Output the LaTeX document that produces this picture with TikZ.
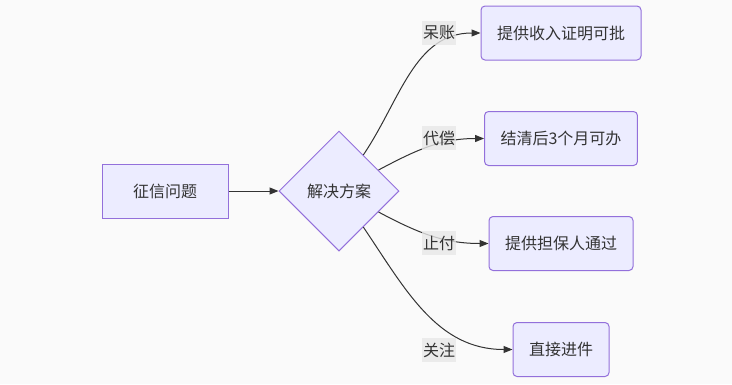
\documentclass[tikz,border=0pt]{standalone}
\usepackage{fontspec}
\newfontfamily\cjk{Noto Sans CJK SC}
\usetikzlibrary{shapes.geometric,arrows.meta}
\definecolor{nodefill}{HTML}{ECECFF}
\definecolor{nodeline}{HTML}{9370DB}
\definecolor{edgeline}{HTML}{333333}
\definecolor{labelgray}{HTML}{E8E8E8}
\definecolor{bggray}{HTML}{FAFAFA}
\tikzset{
  flowbox/.style={draw=nodeline, fill=nodefill, line width=1pt, minimum height=54pt,
    inner xsep=16pt, text=edgeline, font=\cjk\fontsize{16}{19}\selectfont},
  roundbox/.style={flowbox, rounded corners=4pt},
  choice/.style={flowbox, diamond, aspect=1, inner sep=0pt, minimum size=120pt},
  edge/.style={draw=edgeline, line width=1pt, -{Triangle[length=9pt,width=7pt]}},
  edgelabel/.style={fill=labelgray, fill opacity=0.8, text opacity=1, inner xsep=1pt,
    inner ysep=0pt, minimum height=24pt, text=edgeline, font=\cjk\fontsize{16}{19}\selectfont}
}

\begin{document}
\begin{tikzpicture}[x=1pt, y=-1pt]
\fill[bggray] (0,0) rectangle (732,384);
\useasboundingbox (0,0) rectangle (732,384);

% nodes
\node[flowbox, minimum width=126pt] (credit) at (165,191) {征信问题};
\node[choice] (plan) at (339,191) {解决方案};
\node[roundbox] (income) at (561,33) {提供收入证明可批};
\node[roundbox] (wait) at (561,138.5) {结清后3个月可办};
\node[roundbox] (guarantor) at (561,243.5) {提供担保人通过};
\node[roundbox] (direct) at (561,349.5) {直接进件};

% connectors
\draw[edge] (credit) -- (plan);
\draw[edge] (plan.56) to[out=56,in=180] (income.west);
\draw[edge] (plan.28) to[out=28,in=180] (wait.west);
\draw[edge] (plan.-28) to[out=-28,in=180] (guarantor.west);
\draw[edge] (plan.-56) to[out=-56,in=180] (direct.west);

% edge labels
\node[edgelabel] (bad) at (439,33) {呆账};
\node[edgelabel] (repay) at (439,138) {代偿};
\node[edgelabel] (stop) at (439,243) {止付};
\node[edgelabel] (watch) at (439,350) {关注};
\end{tikzpicture}
\end{document}
